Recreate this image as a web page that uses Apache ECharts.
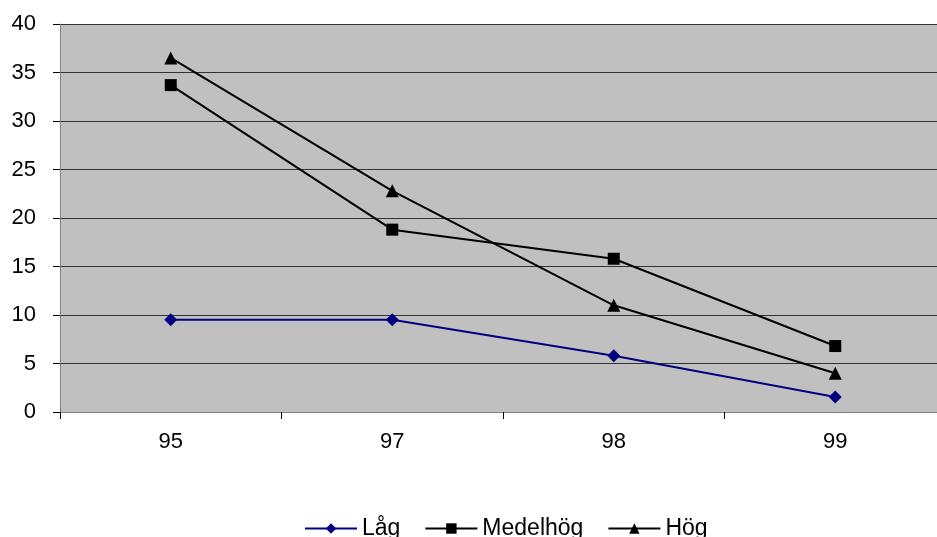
<!DOCTYPE html>
<html>
<head>
<meta charset="utf-8">
<script src="https://cdn.jsdelivr.net/npm/echarts@6/dist/echarts.min.js"></script>
<style>
  html, body { margin: 0; padding: 0; background: #fff; overflow: hidden; }
  #main { width: 950px; height: 537px; }
</style>
</head>
<body>
<div id="main"></div>
<script>
// kategorier och serier
var years = ['95', '97', '98', '99'];
var lag = [9.5, 9.5, 5.8, 1.55];
var medelhog = [33.7, 18.8, 15.8, 6.8];
var hog = [36.5, 22.8, 11.0, 4.0];

var chart = echarts.init(document.getElementById('main'));

var option = {
    animation: false,
    textStyle: { fontFamily: 'Liberation Sans, Arial, sans-serif' },
    grid: { left: 60, right: 4, top: 24, height: 388, backgroundColor: '#C0C0C0', show: true, borderWidth: 0 },
    legend: {
        top: 512,
        left: 299,
        itemWidth: 52,
        itemHeight: 13,
        itemGap: 24,
        textStyle: { fontSize: 23, color: '#000' },
        data: ['Låg', 'Medelhög', 'Hög']
    },
    xAxis: {
        type: 'category',
        data: years,
        axisLine: { lineStyle: { color: '#808080', width: 1 } },
        axisTick: { show: true, length: 7, lineStyle: { color: '#000' } },
        axisLabel: { fontSize: 22, color: '#000', margin: 19 }
    },
    yAxis: {
        type: 'value',
        min: 0,
        max: 40,
        interval: 5,
        axisLine: { show: true, lineStyle: { color: '#808080', width: 1 } },
        axisTick: { show: true, length: 7, lineStyle: { color: '#000' } },
        axisLabel: { fontSize: 22, color: '#000', margin: 24 },
        splitLine: { lineStyle: { color: '#333', width: 1 } }
    },
    series: [
        {
            name: 'Låg', type: 'line', data: lag,
            symbol: 'diamond', symbolSize: 13,
            lineStyle: { color: '#000080', width: 2 },
            itemStyle: { color: '#000080' }
        },
        {
            name: 'Medelhög', type: 'line', data: medelhog,
            symbol: 'rect', symbolSize: 12,
            lineStyle: { color: '#000', width: 2 },
            itemStyle: { color: '#000' }
        },
        {
            name: 'Hög', type: 'line', data: hog,
            symbol: 'triangle', symbolSize: 13,
            lineStyle: { color: '#000', width: 2 },
            itemStyle: { color: '#000' }
        }
    ]
};

chart.setOption(option);
</script>
</body>
</html>
